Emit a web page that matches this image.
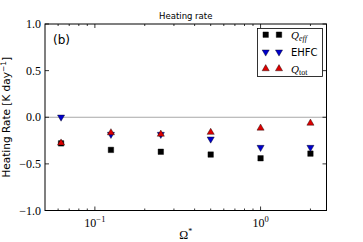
<!DOCTYPE html>
<html>
<head>
<meta charset="utf-8">
<script src="https://cdn.jsdelivr.net/npm/d3@7"></script>
<style>
  body { margin: 0; background: #fff; }
  svg { display: block; }
</style>
</head>
<body>
<div id="chart"></div>
<script>
// data
const omega = [0.0625, 0.125, 0.25, 0.5, 1, 2]
const qEff = [-0.28, -0.35, -0.37, -0.40, -0.44, -0.39]
const ehfc = [-0.005, -0.19, -0.19, -0.24, -0.33, -0.33]
const qTot = [-0.27, -0.16, -0.175, -0.155, -0.11, -0.057]
const yTicks = [-1.0, -0.5, 0.0, 0.5, 1.0]
const xTicks = [0.1, 1]

const width = 363
const height = 242
const margin = { top: 24, left: 45, right: 36.5, bottom: 31.5 }

const svg = d3
  .select('#chart')
  .append('svg')
  .attr('width', width)
  .attr('height', height)

const xPositionScale = d3
  .scaleLog()
  .domain([0.05, 2.5])
  .range([margin.left, width - margin.right])

const yPositionScale = d3
  .scaleLinear()
  .domain([-1, 1])
  .range([height - margin.bottom, margin.top])

const serif = "'Liberation Serif', serif"
const sans = "'DejaVu Sans', sans-serif"

// zero line
svg
  .append('line')
  .attr('x1', xPositionScale.range()[0])
  .attr('x2', xPositionScale.range()[1])
  .attr('y1', yPositionScale(0))
  .attr('y2', yPositionScale(0))
  .attr('stroke', '#a8a8a8')
  .attr('stroke-width', 1)

// minor ticks on log axis
const minor = []
for (let d = 0.01; d < 10; d *= 10) {
  for (let k = 2; k <= 9; k++) {
    const v = k * d
    if (v > 0.05 && v < 2.5) minor.push(v)
  }
}

const x0 = xPositionScale.range()[0]
const x1 = xPositionScale.range()[1]
const yB = yPositionScale.range()[0]
const yT = yPositionScale.range()[1]

const ticks = svg.append('g').attr('stroke', '#000').attr('stroke-width', 0.8)
minor.forEach(v => {
  const x = xPositionScale(v)
  ticks.append('line').attr('x1', x).attr('x2', x).attr('y1', yB).attr('y2', yB - 2)
  ticks.append('line').attr('x1', x).attr('x2', x).attr('y1', yT).attr('y2', yT + 2)
})
xTicks.forEach(v => {
  const x = xPositionScale(v)
  ticks.append('line').attr('x1', x).attr('x2', x).attr('y1', yB).attr('y2', yB - 4)
  ticks.append('line').attr('x1', x).attr('x2', x).attr('y1', yT).attr('y2', yT + 4)
})
yTicks.forEach(v => {
  const y = yPositionScale(v)
  ticks.append('line').attr('x1', x0).attr('x2', x0 + 4).attr('y1', y).attr('y2', y)
  ticks.append('line').attr('x1', x1).attr('x2', x1 - 4).attr('y1', y).attr('y2', y)
})

// y tick labels
svg
  .selectAll('.y-label')
  .data(yTicks)
  .enter()
  .append('text')
  .attr('class', 'y-label')
  .attr('x', x0 - 4)
  .attr('y', d => yPositionScale(d) + 4)
  .attr('text-anchor', 'end')
  .attr('font-family', serif)
  .attr('font-size', 12)
  .text(d => d3.format('.1f')(d).replace('-', '\u2212'))

// x tick labels, 10^n
xTicks.forEach(v => {
  const t = svg
    .append('text')
    .attr('x', xPositionScale(v))
    .attr('y', yB + 16)
    .attr('text-anchor', 'middle')
    .attr('font-family', serif)
    .attr('font-size', 12)
  t.append('tspan').text('10')
  t.append('tspan')
    .attr('dy', -5)
    .attr('font-size', 8.5)
    .text(Math.round(Math.log10(v)) === 0 ? '0' : '\u2212' + Math.abs(Math.round(Math.log10(v))))
})

// axis labels
const xl = svg
  .append('text')
  .attr('x', (x0 + x1) / 2)
  .attr('y', 239)
  .attr('text-anchor', 'middle')
  .attr('font-family', serif)
  .attr('font-size', 12)
xl.append('tspan').text('\u03A9')
xl.append('tspan').attr('dy', -5).attr('font-size', 8).text('*')

const yl = svg
  .append('text')
  .attr('transform', 'translate(10,' + (yT + yB) / 2 + ') rotate(-90)')
  .attr('text-anchor', 'middle')
  .attr('font-family', sans)
  .attr('font-size', 10.5)
yl.append('tspan').text('Heating Rate [K day')
yl.append('tspan').attr('dy', -4).attr('font-size', 7.5).text('\u22121')
yl.append('tspan').attr('dy', 4).text(']')

svg
  .append('text')
  .attr('x', (x0 + x1) / 2)
  .attr('y', 19)
  .attr('text-anchor', 'middle')
  .attr('font-family', sans)
  .attr('font-size', 8.5)
  .text('Heating rate')

svg
  .append('text')
  .attr('x', x0 + 8)
  .attr('y', yT + 20)
  .attr('font-family', sans)
  .attr('font-size', 12)
  .text('(b)')

// markers
const sq = d3.symbol().type(d3.symbolSquare).size(30)
const tri = d3.symbol().type(d3.symbolTriangle).size(22)

function drawSeries(values, shape, fill, rot, dy) {
  svg
    .append('g')
    .selectAll('path')
    .data(values)
    .enter()
    .append('path')
    .attr('d', shape)
    .attr('transform', (d, i) =>
      'translate(' + xPositionScale(omega[i]) + ',' + (yPositionScale(d) + dy) + ') rotate(' + rot + ')')
    .attr('fill', fill)
    .attr('stroke', '#000')
    .attr('stroke-width', 0.4)
}

drawSeries(qEff, sq, '#000', 0, 0)
drawSeries(ehfc, tri, '#0000cc', 180, -0.6)
drawSeries(qTot, tri, '#dd0000', 0, 0.6)

// frame
svg
  .append('rect')
  .attr('x', x0)
  .attr('y', yT)
  .attr('width', x1 - x0)
  .attr('height', yB - yT)
  .attr('fill', 'none')
  .attr('stroke', '#000')
  .attr('stroke-width', 1)

// legend
const lg = svg.append('g')
lg.append('rect')
  .attr('x', 257.5)
  .attr('y', 28.5)
  .attr('width', 65)
  .attr('height', 48)
  .attr('fill', '#fff')
  .attr('stroke', '#000')
  .attr('stroke-width', 0.8)

const legendRows = [
  { shape: sq, fill: '#000', rot: 0, y: 34.7 },
  { shape: tri, fill: '#0000cc', rot: 180, y: 52 },
  { shape: tri, fill: '#dd0000', rot: 0, y: 68.7 }
]
legendRows.forEach(r => {
  ;[265.7, 279].forEach(x => {
    lg.append('path')
      .attr('d', r.shape)
      .attr('transform', 'translate(' + x + ',' + r.y + ') rotate(' + r.rot + ')')
      .attr('fill', r.fill)
      .attr('stroke', '#000')
      .attr('stroke-width', 0.4)
  })
})

const l1 = lg.append('text').attr('x', 291).attr('y', 38.5).attr('font-family', serif).attr('font-size', 11)
l1.append('tspan').attr('font-style', 'italic').text('Q')
l1.append('tspan').attr('dy', 2.5).attr('font-size', 8).attr('font-style', 'italic').text('eff')

lg.append('text').attr('x', 291).attr('y', 55.5).attr('font-family', sans).attr('font-size', 10).text('EHFC')

const l3 = lg.append('text').attr('x', 291).attr('y', 72.5).attr('font-family', serif).attr('font-size', 11)
l3.append('tspan').attr('font-style', 'italic').text('Q')
l3.append('tspan').attr('dy', 2.5).attr('font-size', 8).text('tot')
</script>
</body>
</html>
